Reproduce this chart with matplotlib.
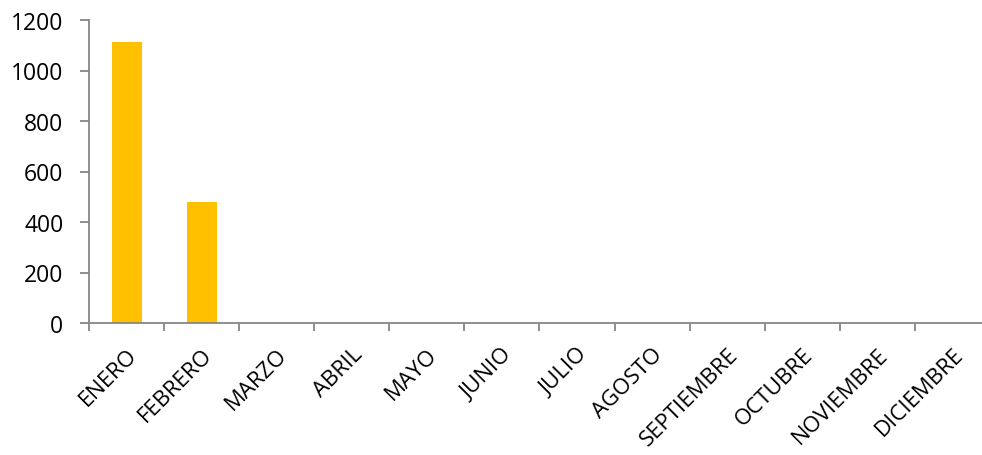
import matplotlib
matplotlib.use("Agg")
import matplotlib.pyplot as plt
import matplotlib.transforms as mtransforms
import numpy as np

months = ["ENERO", "FEBRERO", "MARZO", "ABRIL", "MAYO", "JUNIO", "JULIO",
          "AGOSTO", "SEPTIEMBRE", "OCTUBRE", "NOVIEMBRE", "DICIEMBRE"]
values = [1112, 478, 0, 0, 0, 0, 0, 0, 0, 0, 0, 0]
yticks = [0, 200, 400, 600, 800, 1000, 1200]

plt.rcParams['font.family'] = ['Open Sans', 'DejaVu Sans']

fig = plt.figure(figsize=(9.82, 4.56), dpi=100)
W, H = 982, 456
ax = fig.add_axes([89 / W, 1 - 324 / H, (990 - 89) / W, (324 - 21) / H])

x = np.arange(len(months))
ax.bar(x, values, width=0.4, color="#FFC000", zorder=2)
ax.set_xlim(-0.5, len(months) - 0.5)
ax.set_ylim(0, 1200)
ax.set_yticks(yticks)
ax.set_yticklabels([str(v) for v in yticks], fontsize=16.5)

ax.set_xticks(np.arange(-0.5, len(months), 1.0))
ax.set_xticklabels([])
ax.set_xticks(x, minor=True)
ax.set_xticklabels(months, minor=True, rotation=45, ha="right", va="top",
                   rotation_mode="anchor", fontsize=16)
offset = mtransforms.ScaledTranslation(4 / 100, 0, fig.dpi_scale_trans)
for lab in ax.get_xticklabels(minor=True):
    lab.set_transform(lab.get_transform() + offset)
ax.tick_params(axis="x", which="minor", length=0, pad=15)
ax.tick_params(axis="x", which="major", length=5.5, color="#868686", width=1.3)
ax.tick_params(axis="y", length=6.5, color="#868686", width=1.3, pad=12)

for s in ["top", "right"]:
    ax.spines[s].set_visible(False)
for s in ["left", "bottom"]:
    ax.spines[s].set_color("#868686")
    ax.spines[s].set_linewidth(1.3)

fig.savefig("out.png", dpi=100)
